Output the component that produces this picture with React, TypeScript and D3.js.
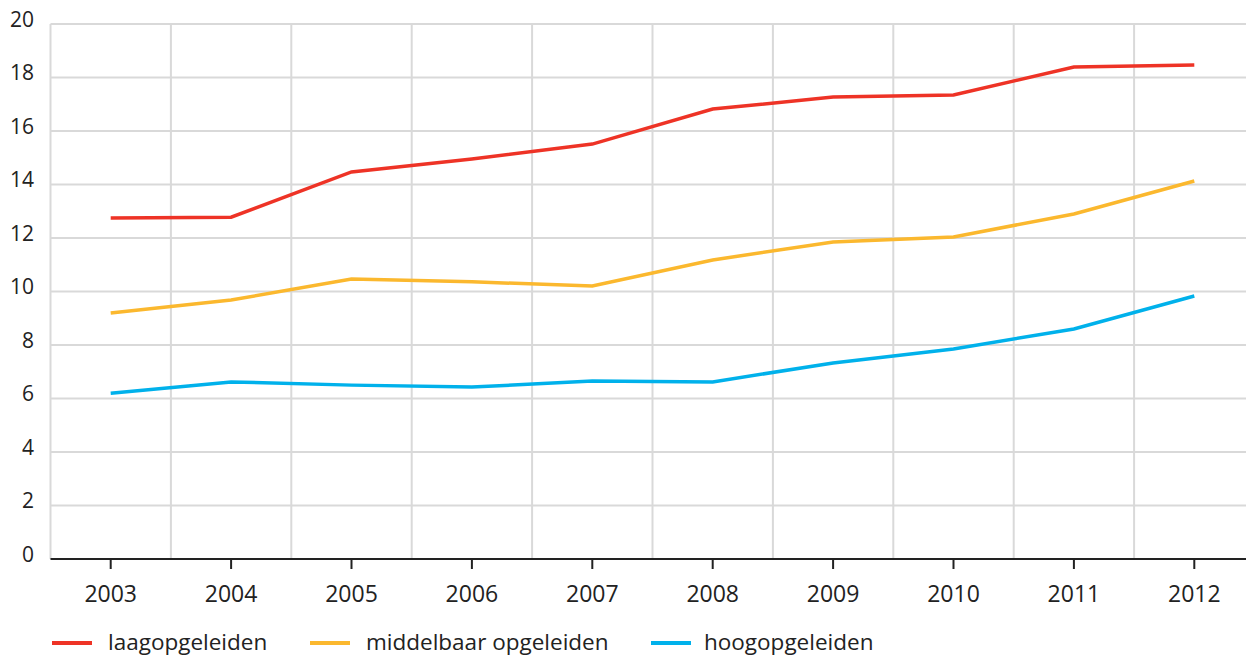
import React, { useEffect, useRef } from 'react';
import * as d3 from 'd3';

const years = ['2003', '2004', '2005', '2006', '2007', '2008', '2009', '2010', '2011', '2012'];
const laag = [12.75, 12.78, 14.47, 14.95, 15.51, 16.82, 17.27, 17.35, 18.39, 18.47];
const middelbaar = [9.2, 9.68, 10.47, 10.36, 10.21, 11.18, 11.85, 12.04, 12.9, 14.13];
const hoog = [6.2, 6.62, 6.5, 6.43, 6.65, 6.62, 7.33, 7.85, 8.6, 9.83];
const yTicks = [0, 2, 4, 6, 8, 10, 12, 14, 16, 18, 20];

const series = [
  { name: 'laagopgeleiden', values: laag, color: '#ee3326' },
  { name: 'middelbaar opgeleiden', values: middelbaar, color: '#fbb82e' },
  { name: 'hoogopgeleiden', values: hoog, color: '#00b1eb' },
];

const App = () => {
  const ref = useRef<SVGSVGElement>(null);

  useEffect(() => {
    if (!ref.current) return;
    const svg = d3.select(ref.current);
    svg.selectAll('*').remove();

    const width = 1246;
    const font = '"Open Sans", sans-serif';
    const left = 50.5;
    const top = 24;
    const bottom = 559;

    // ------- Scales -------
    const x = d3.scaleBand<string>().domain(years).range([left, left + 120.4 * years.length]);
    const y = d3.scaleLinear().domain([0, 20]).range([bottom, top]);

    // ------- Grid -------
    const grid = svg.append('g');
    grid.selectAll('line.h')
      .data(yTicks.filter((t) => t > 0))
      .enter()
      .append('line')
      .attr('x1', left)
      .attr('x2', width)
      .attr('y1', (d) => y(d))
      .attr('y2', (d) => y(d))
      .attr('stroke', '#d9d9d9')
      .attr('stroke-width', 2);

    grid.selectAll('line.v')
      .data(years)
      .enter()
      .append('line')
      .attr('x1', (d) => x(d)!)
      .attr('x2', (d) => x(d)!)
      .attr('y1', top)
      .attr('y2', bottom)
      .attr('stroke', '#d9d9d9')
      .attr('stroke-width', 2);

    // ------- Y labels -------
    svg.append('g')
      .selectAll('text')
      .data(yTicks)
      .enter()
      .append('text')
      .attr('x', 34)
      .attr('y', (d) => y(d))
      .attr('dy', '0.12em')
      .attr('text-anchor', 'end')
      .attr('font-family', font)
      .attr('font-size', 21)
      .attr('fill', '#222')
      .text((d) => String(d));

    // ------- X axis -------
    svg.append('line')
      .attr('x1', left)
      .attr('x2', width)
      .attr('y1', bottom)
      .attr('y2', bottom)
      .attr('stroke', '#222')
      .attr('stroke-width', 2);

    const bw = x.bandwidth();
    svg.append('g')
      .selectAll('line')
      .data(years)
      .enter()
      .append('line')
      .attr('x1', (d) => x(d)! + bw / 2)
      .attr('x2', (d) => x(d)! + bw / 2)
      .attr('y1', bottom)
      .attr('y2', bottom + 10)
      .attr('stroke', '#222')
      .attr('stroke-width', 2);

    svg.append('g')
      .selectAll('text')
      .data(years)
      .enter()
      .append('text')
      .attr('x', (d) => x(d)! + bw / 2)
      .attr('y', 602)
      .attr('text-anchor', 'middle')
      .attr('font-family', font)
      .attr('font-size', 23)
      .attr('fill', '#222')
      .text((d) => d);

    // ------- Lines -------
    const line = d3
      .line<number>()
      .x((_, i) => x(years[i])! + bw / 2)
      .y((d) => y(d));

    series.forEach((s) => {
      svg.append('path')
        .datum(s.values)
        .attr('fill', 'none')
        .attr('stroke', s.color)
        .attr('stroke-width', 3.5)
        .attr('d', line);
    });

    // ------- Legend -------
    const legendPos = [52, 310, 651];
    series.forEach((s, i) => {
      const g = svg.append('g').attr('transform', `translate(${legendPos[i]},643)`);
      g.append('line')
        .attr('x1', 0)
        .attr('x2', 40)
        .attr('stroke', s.color)
        .attr('stroke-width', 4);
      g.append('text')
        .attr('x', i === 2 ? 53 : 56)
        .attr('y', 7)
        .attr('font-family', font)
        .attr('font-size', 22.5)
        .attr('fill', '#222')
        .text(s.name);
    });
  }, []);

  return <svg ref={ref} width={1246} height={657} style={{ display: 'block', position: 'absolute', left: 0, top: 0 }} />;
};

export default App;
